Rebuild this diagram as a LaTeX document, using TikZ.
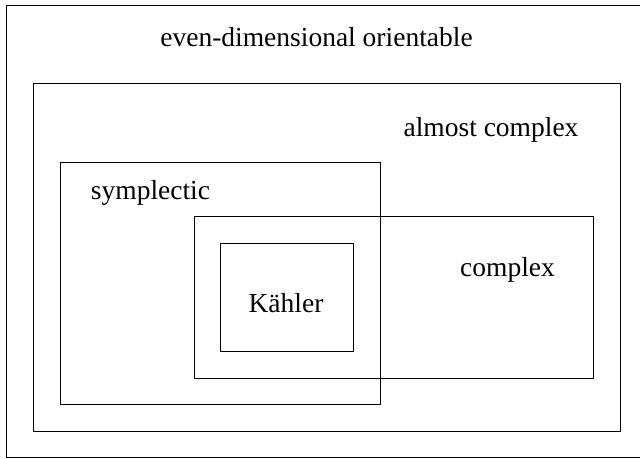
\documentclass[tikz,border=0pt]{standalone}
\usepackage{fontspec}
\setmainfont{Liberation Serif}
\begin{document}
\begin{tikzpicture}[x=1pt,y=-1pt,
  setbox/.style={draw=black,line width=0.9pt},
  lbl/.style={anchor=base,inner sep=0pt,font=\fontsize{27.5}{31}\selectfont}]
\useasboundingbox (0,0) rectangle (640,458);
\draw[setbox] (6,5) rectangle (642,457.5);
\draw[setbox] (33,83) rectangle (620.5,431);
\draw[setbox] (60,162) rectangle (380,404);
\draw[setbox] (194,216) rectangle (593,378);
\draw[setbox] (220,243) rectangle (353,351);
\node[lbl] (even) at (316.5,46) {even-dimensional orientable};
\node[lbl] (almost) at (491,136) {almost complex};
\node[lbl] (symp) at (150.5,199) {symplectic};
\node[lbl] (cplx) at (507.5,276) {complex};
\node[lbl] (kahler) at (286,312) {Kähler};
\end{tikzpicture}
\end{document}
